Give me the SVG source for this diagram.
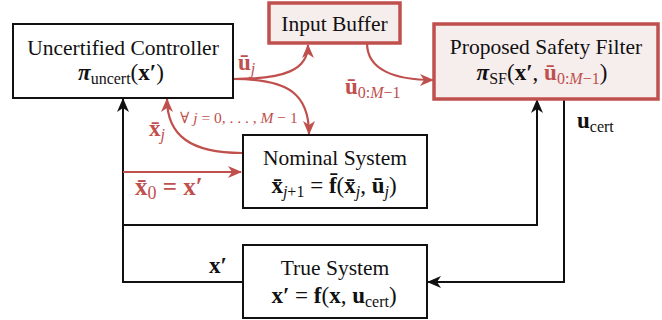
<svg xmlns="http://www.w3.org/2000/svg" width="662" height="320" viewBox="0 0 662 320" font-family="'Liberation Serif', 'DejaVu Serif', serif">
<defs>
<style>
text{font-family:'Liberation Serif','DejaVu Serif',serif;fill:#111}
.t{font-size:21.5px}
.m{font-size:23px}
.box{fill:#fff;stroke:#111;stroke-width:2}
.rbox{fill:#f6eded;stroke:#c0504d;stroke-width:3.5}
.bl{fill:none;stroke:#111;stroke-width:2}
.rl{fill:none;stroke:#c0504d;stroke-width:2.2}
.red{fill:#c0504d}
.b{font-weight:bold}
.i{font-style:italic}
.s{font-size:16px}
</style>
<marker id="ab" markerUnits="userSpaceOnUse" markerWidth="14" markerHeight="12" refX="13" refY="6" orient="auto"><path d="M0,0 L14,6 L0,12 L4,6 z" fill="#111"/></marker>
<marker id="ar" markerUnits="userSpaceOnUse" markerWidth="14" markerHeight="12" refX="13" refY="6" orient="auto"><path d="M0,0 L14,6 L0,12 L4,6 z" fill="#c0504d"/></marker>
</defs>
<g id="connectors">
<path class="bl" d="M242,282 H123 V99" marker-end="url(#ab)"/>
<path class="bl" d="M123,225 H537 V100" marker-end="url(#ab)"/>
<path class="bl" d="M564,99 V282 H428" marker-end="url(#ab)"/>
<path class="rl" d="M123,172 H241" marker-end="url(#ar)"/>
<path class="rl" d="M233,79 C285,79 308,70 308,45" marker-end="url(#ar)"/>
<path class="rl" d="M233,79 C290,79 309,95 309,134" marker-end="url(#ar)"/>
<path class="rl" d="M242,153 C190,153 167,135 167,99" marker-end="url(#ar)"/>
<path class="rl" d="M367,43 C367,70 395,80 433,80" marker-end="url(#ar)"/>
</g>
<g id="controller">
<rect class="box" x="13" y="24" width="220" height="74"/>
<text class="t" x="123" y="55" text-anchor="middle">Uncertified Controller</text>
<text class="m" x="121" y="80" text-anchor="middle"><tspan class="b i">π</tspan><tspan class="s" dy="4">uncert</tspan><tspan dy="-4">(</tspan><tspan class="b">x′</tspan>)</text>
</g>
<g id="buffer">
<rect class="rbox" x="269" y="3" width="131" height="40"/>
<text class="t" x="334.5" y="31" text-anchor="middle">Input Buffer</text>
</g>
<g id="filter">
<rect class="rbox" x="434" y="24" width="224" height="75"/>
<text class="t" x="546" y="54" text-anchor="middle">Proposed Safety Filter</text>
<text class="m" x="542" y="80" text-anchor="middle"><tspan class="b i">π</tspan><tspan class="s" dy="4">SF</tspan><tspan dy="-4">(</tspan><tspan class="b">x′</tspan>, <tspan class="b red">ū</tspan><tspan class="s red" dy="4">0:<tspan class="i">M</tspan>−1</tspan><tspan dy="-4">)</tspan></text>
</g>
<g id="nominal">
<rect class="box" x="243" y="135" width="184" height="73"/>
<text class="t" x="335" y="165" text-anchor="middle">Nominal System</text>
<text class="m" x="334" y="193" text-anchor="middle"><tspan class="b">x̄</tspan><tspan class="s" dy="4"><tspan class="i">j</tspan>+1</tspan><tspan dy="-4"> = </tspan><tspan class="b">f̄</tspan>(<tspan class="b">x̄</tspan><tspan class="s i" dy="4">j</tspan><tspan dy="-4">, </tspan><tspan class="b">ū</tspan><tspan class="s i" dy="4">j</tspan><tspan dy="-4">)</tspan></text>
</g>
<g id="true">
<rect class="box" x="243" y="245" width="184" height="73"/>
<text class="t" x="335" y="275" text-anchor="middle">True System</text>
<text class="m" x="334" y="303" text-anchor="middle"><tspan class="b">x′</tspan> = <tspan class="b">f</tspan>(<tspan class="b">x</tspan>, <tspan class="b">u</tspan><tspan class="s" dy="4">cert</tspan><tspan dy="-4">)</tspan></text>
</g>
<g id="labels">
<text class="m" x="238" y="70"><tspan class="b red">ū</tspan><tspan class="s i red" dy="4">j</tspan></text>
<text class="red" x="180" y="123" style="font-size:15.5px">∀ <tspan class="i">j</tspan> = 0, . . . , <tspan class="i">M</tspan> − 1</text>
<text class="m" x="149" y="136"><tspan class="b red">x̄</tspan><tspan class="s i red" dy="4">j</tspan></text>
<text x="135" y="195" style="font-size:25px"><tspan class="b red">x̄</tspan><tspan class="red" style="font-size:18px" dy="4">0</tspan><tspan class="b red" dy="-4"> = x′</tspan></text>
<text class="m" x="345" y="94"><tspan class="b red">ū</tspan><tspan class="s red" dy="4">0:<tspan class="i">M</tspan>−1</tspan></text>
<text class="m" x="577" y="128"><tspan class="b">u</tspan><tspan class="s" dy="4">cert</tspan></text>
<text class="m b" x="209" y="273">x′</text>
</g>
</svg>
